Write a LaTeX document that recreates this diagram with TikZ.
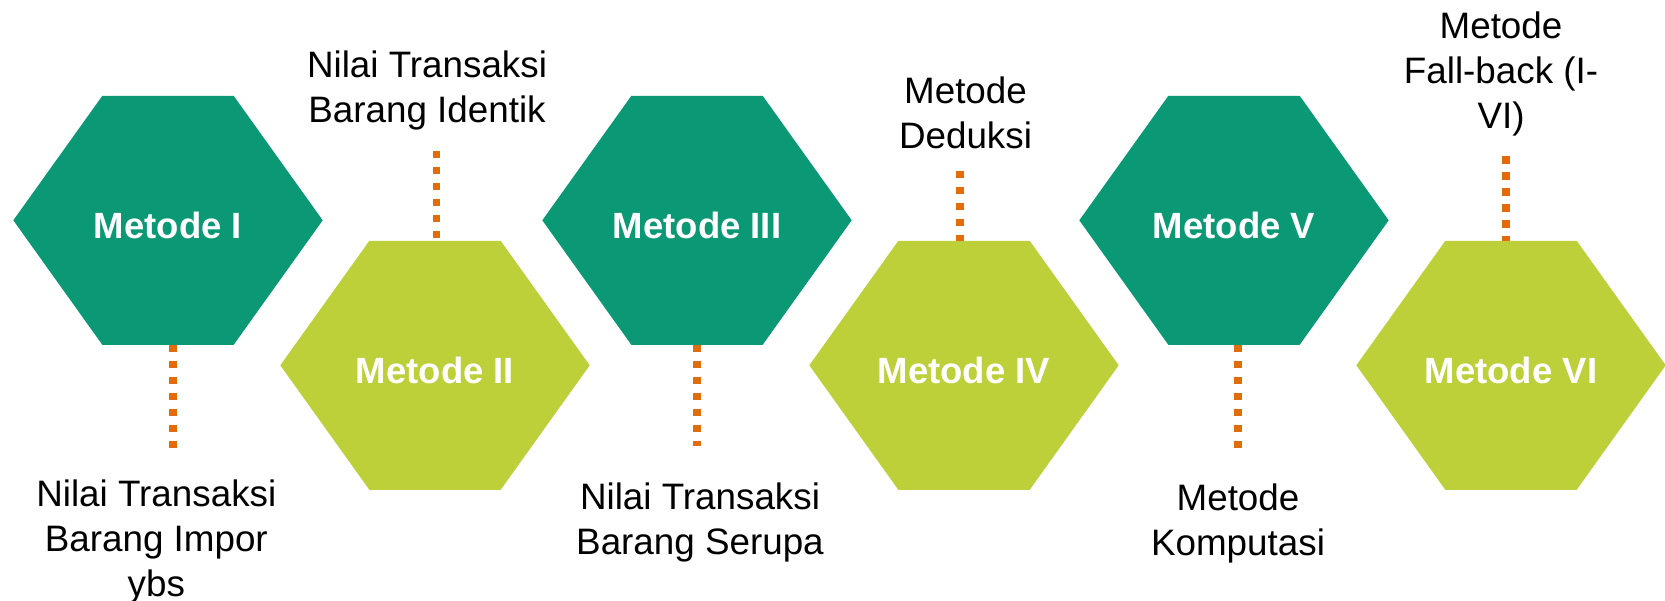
\documentclass[tikz,border=0pt]{standalone}
\usepackage{fontspec}
\setmainfont{Liberation Sans}
\usetikzlibrary{backgrounds}

\definecolor{hijautua}{RGB}{11,153,117}
\definecolor{hijaumuda}{RGB}{189,207,57}
\definecolor{oranye}{RGB}{227,108,10}

\begin{document}
\begin{tikzpicture}[x=1pt, y=-1pt,
    heksagon/.style={minimum width=309pt, minimum height=248.5pt, inner sep=0pt,
      text=white, font=\fontsize{36.5}{44}\selectfont\bfseries, text height=37pt, text depth=0pt},
    keterangan/.style={align=center, anchor=base, font=\fontsize{36.8}{45}\selectfont},
    titik/.style={draw=oranye, line width=7.5pt, dash pattern=on 7.5pt off 8.5pt}]
              \useasboundingbox (0,0) rectangle (1665,600);

              \node [heksagon] (metode1) at (168, 220.3) {Metode I};
              \node [heksagon] (metode2) at (435, 365.3) {Metode II};
              \node [heksagon] (metode3) at (697, 220.3) {Metode III};
              \node [heksagon] (metode4) at (964, 365.3) {Metode IV};
              \node [heksagon] (metode5) at (1234, 220.3) {Metode V};
              \node [heksagon] (metode6) at (1511, 365.3) {Metode VI};

              % anchor base = baseline of the last line
              \node [keterangan] (ket1) at (156.3, 596) {Nilai Transaksi\\Barang Impor\\ybs};
              \node [keterangan] (ket2) at (427, 122.7) {Nilai Transaksi\\Barang Identik};
              \node [keterangan] (ket3) at (700, 554) {Nilai Transaksi\\Barang Serupa};
              \node [keterangan] (ket4) at (965.5, 148.3) {Metode\\Deduksi};
              \node [keterangan] (ket5) at (1238, 555) {Metode\\Komputasi};
              \node [keterangan] (ket6) at (1501, 128) {Metode\\Fall-back (I-\\VI)};

              \coordinate (ujung1) at (173, 448);
              \coordinate (ujung2) at (436.7, 150.7);
              \coordinate (ujung3) at (697.2, 446);
              \coordinate (ujung4) at (960, 170.7);
              \coordinate (ujung5) at (1238, 448.7);
              \coordinate (ujung6) at (1506, 156);

              \begin{scope}[on background layer]
                \foreach \m/\w in {metode1/hijautua, metode2/hijaumuda, metode3/hijautua,
                                   metode4/hijaumuda, metode5/hijautua, metode6/hijaumuda}
                  \fill [\w] (\m.west) -- ([xshift=89pt]\m.north west) -- ([xshift=-89pt]\m.north east)
                    -- (\m.east) -- ([xshift=-89pt]\m.south east) -- ([xshift=89pt]\m.south west) -- cycle;
              \end{scope}

              \draw [titik] (ujung1 |- metode1.south) -- (ujung1);
              \draw [titik] (ujung2) -- (ujung2 |- metode2.north);
              \draw [titik] (ujung3 |- metode3.south) -- (ujung3);
              \draw [titik] (ujung4) -- (ujung4 |- metode4.north);
              \draw [titik] (ujung5 |- metode5.south) -- (ujung5);
              \draw [titik] (ujung6) -- (ujung6 |- metode6.north);

            \end{tikzpicture}
\end{document}
